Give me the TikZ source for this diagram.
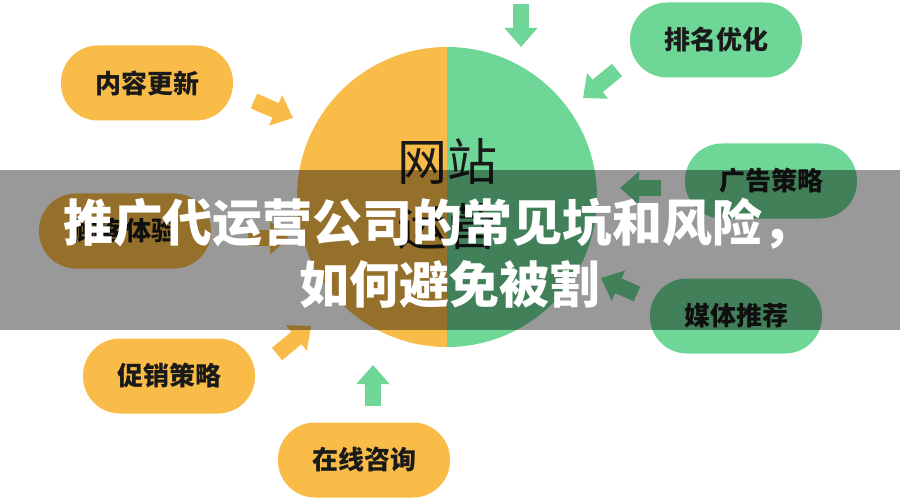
\documentclass[tikz,border=0pt]{standalone}
\usepackage{fontspec}
\setmainfont{Noto Sans CJK SC}
\usetikzlibrary{arrows.meta}
\definecolor{org}{HTML}{F9BC48}
\definecolor{grn}{HTML}{6ED696}
\definecolor{ink}{HTML}{1A1A1A}
\tikzset{
  pill/.style={fill=#1, rounded corners=37pt, minimum width=172pt, minimum height=75pt,
    inner sep=0pt, text=ink, font=\fontsize{26}{26}\selectfont\bfseries},
  barrow/.style={draw=#1, line width=16pt,
    -{Triangle[width=32pt,length=19pt]}, shorten >=0pt},
  centertext/.style={text=ink, font=\fontsize{50}{50}\selectfont},
  titletext/.style={text=white, font=\fontsize{50}{50}\selectfont\bfseries},
}
\begin{document}
\begin{tikzpicture}[x=1pt,y=-1pt]
\useasboundingbox (0,0) rectangle (900,500);
\fill[white] (0,0) rectangle (900,500);
% central circle
\coordinate (c) at (447,197);
\begin{scope}
  \clip (0,0) rectangle (447,500);
  \fill[org] (c) circle[radius=150pt];
\end{scope}
\begin{scope}
  \clip (447,0) rectangle (900,500);
  \fill[grn] (c) circle[radius=150pt];
\end{scope}
\node[centertext] (center) at (447,161) {网站};
\node[centertext] (center2) at (447,227) {运营};
% pills
\node[pill=org] (nr) at (147,83) {内容更新};
\node[pill=org] (ky) at (125,231) {顾客体验};
\node[pill=org] (cx) at (169,376) {促销策略};
\node[pill=org] (zx) at (364,460) {在线咨询};
\node[pill=grn] (pm) at (716,40) {排名优化};
\node[pill=grn] (gg) at (771,181) {广告策略};
\node[pill=grn] (mt) at (736,316) {媒体推荐};
% arrow ends
\coordinate (t0) at (521,4);   \coordinate (h0) at (521,47);
\coordinate (t1) at (254,101); \coordinate (h1) at (293,118);
\coordinate (t2) at (248,238); \coordinate (h2) at (289,238);
\coordinate (t3) at (277,354); \coordinate (h3) at (311,326);
\coordinate (t4) at (373,406); \coordinate (h4) at (373,365);
\coordinate (t5) at (617,70);  \coordinate (h5) at (583,98);
\coordinate (t6) at (661,188); \coordinate (h6) at (620,188);
\coordinate (t7) at (637,294); \coordinate (h7) at (601,278);
\draw[barrow=grn] (t0) -- (h0);
\draw[barrow=org] (t1) -- (h1);
\draw[barrow=org] (t2) -- (h2);
\draw[barrow=org] (t3) -- (h3);
\draw[barrow=grn] (t4) -- (h4);
\draw[barrow=grn] (t5) -- (h5);
\draw[barrow=grn] (t6) -- (h6);
\draw[barrow=grn] (t7) -- (h7);
% banner
\fill[black, opacity=0.4] (0,170) rectangle (900,330);
\node[titletext] (title1) at (438,224) {推广代运营公司的常见坑和风险，};
\node[titletext] (title2) at (449,284) {如何避免被割};
\end{tikzpicture}
\end{document}
